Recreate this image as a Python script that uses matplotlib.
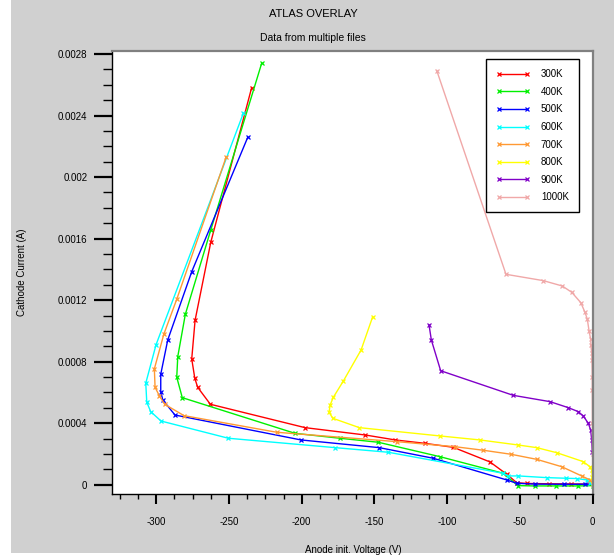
import matplotlib
matplotlib.use("Agg")
import matplotlib.pyplot as plt
from matplotlib.patches import Rectangle
from matplotlib.ticker import MultipleLocator, FixedLocator

plt.rcParams['font.family'] = ['Liberation Sans Narrow', 'Liberation Sans', 'DejaVu Sans']

labels = ["300K", "400K", "500K", "600K", "700K", "800K", "900K", "1000K"]
colors = ["#ff0000", "#00f000", "#0000ff", "#00ffff", "#ff9933", "#ffff00", "#8000c8", "#f0a8a8"]

v300 = [-234.4, -262.5, -273.3, -275.6, -273.5, -271.5, -262.8, -197.7, -156.2, -135.7, -115.3, -95.8, -70.6, -59.1, -52.2, -45, -30, -15, 0]
i300 = [0.002582, 0.001577, 0.001069, 0.000818, 0.000692, 0.000633, 0.000523, 0.000371, 0.000323, 0.000291, 0.000269, 0.000243, 0.000148, 0.000068, 0.000013, 0.000008, 0.000006, 0.000005, 0.000004]

v400 = [-227.5, -262.5, -280.0, -285.2, -285.9, -282.1, -204.6, -173.7, -147.4, -104.9, -61.4, -51.4, -40, -25, -10, 0]
i400 = [0.002741, 0.001657, 0.001108, 0.000833, 0.000699, 0.000566, 0.000334, 0.000302, 0.000276, 0.000182, 0.000074, -0.000006, -0.000008, -0.000008, -0.000008, -0.000006]

v500 = [-237.1, -275.6, -292.1, -296.9, -296.9, -295.5, -287.1, -200.5, -146.7, -109.6, -59.1, -52.2, -40, -20, -5, 0]
i500 = [0.002259, 0.001385, 0.000941, 0.000718, 0.000605, 0.000551, 0.000453, 0.000291, 0.000241, 0.000172, 0.000031, 0.000009, 0.000004, 0.000003, 0.000003, 0.000002]

v600 = [-240.1, -300.1, -307.2, -306.5, -303.8, -296.7, -250.4, -177.1, -140.5, -61.4, -58.0, -51.1, -31.6, -18.4, -11, -4.1, -1.9, 0]
i600 = [0.002416, 0.000911, 0.000660, 0.000536, 0.000475, 0.000414, 0.000302, 0.000241, 0.000211, 0.000074, 0.000057, 0.000057, 0.000046, 0.000042, 0.000040, 0.000031, 0.000009, 0.000002]

v700 = [-252.0, -285.9, -294.8, -301.3, -300.8, -297.9, -294.2, -280.9, -217.2, -134.7, -94.6, -75.2, -56.2, -38.5, -21.3, -7.6, -1.9, 0]
i700 = [0.002129, 0.001206, 0.000978, 0.000753, 0.000633, 0.000579, 0.000523, 0.000449, 0.000341, 0.000280, 0.000247, 0.000224, 0.000198, 0.000165, 0.000117, 0.000057, 0.000031, 0.000005]

v800 = [-151.2, -159.2, -171.4, -178.3, -180.5, -181.2, -178.7, -160.4, -104.9, -77.5, -51.1, -38.5, -24.7, -6.5, -1.9, -0.7, -0.3, 0]
i800 = [0.001093, 0.000876, 0.000674, 0.000568, 0.000518, 0.000471, 0.000432, 0.000371, 0.000317, 0.000291, 0.000258, 0.000241, 0.000208, 0.000150, 0.000117, 0.000096, 0.000050, 0.000005]

v900 = [-112.5, -110.9, -104.5, -54.6, -29.3, -16.8, -9.9, -6.5, -3.0, -1.4, -0.7, -0.3]
i900 = [0.001039, 0.000941, 0.000741, 0.000581, 0.000540, 0.000501, 0.000475, 0.000447, 0.000399, 0.000356, 0.000291, 0.000215]

v1000 = [-107.2, -59.6, -34.0, -20.9, -14.4, -8.2, -5.3, -3.7, -2.5, -1.4, -1.2, -0.7, -0.5, -0.3, -0.3, -0.2, -0.1, 0]
i1000 = [0.002693, 0.001368, 0.001327, 0.001292, 0.001251, 0.001184, 0.001121, 0.001076, 0.001000, 0.000946, 0.000909, 0.000855, 0.000811, 0.000702, 0.000616, 0.000400, 0.000200, 0.000000]

volts = [v300, v400, v500, v600, v700, v800, v900, v1000]
currents = [i300, i400, i500, i600, i700, i800, i900, i1000]

ytick_vals = [0, 0.0004, 0.0008, 0.0012, 0.0016, 0.002, 0.0024, 0.0028]
ytick_labels = ["0", "0.0004", "0.0008", "0.0012", "0.0016", "0.002", "0.0024", "0.0028"]
xtick_vals = [-300, -250, -200, -150, -100, -50, 0]
xtick_labels = ["-300", "-250", "-200", "-150", "-100", "-50", "0"]

W, H = 614, 556
fig = plt.figure(figsize=(W / 100, H / 100), dpi=100, facecolor="white")
fig.patches.append(Rectangle((11 / W, 3 / H), 1, 1, transform=fig.transFigure,
                             facecolor="#d0d0d0", edgecolor="none", zorder=-10))

ax = fig.add_axes([112.3 / W, 1 - 494.3 / H, 481.2 / W, 443.3 / H])
ax.set_facecolor("white")

for v, c, col, lab in zip(volts, currents, colors, labels):
    ax.plot(v, c, color=col, lw=1.0, marker="x", ms=3.2, mew=0.9, label=lab)

ax.set_xlim(-330.2, 0.55)
ax.set_ylim(-0.0000624, 0.00282)

ax.xaxis.set_major_locator(FixedLocator(xtick_vals))
ax.set_xticklabels(xtick_labels)
ax.xaxis.set_minor_locator(MultipleLocator(12.5))
ax.yaxis.set_major_locator(FixedLocator(ytick_vals))
ax.set_yticklabels(ytick_labels)
ax.yaxis.set_minor_locator(MultipleLocator(0.0001))

ax.tick_params(axis="x", which="major", direction="out", length=7, width=1.5, pad=9.5, labelsize=7, colors="black")
ax.tick_params(axis="x", which="minor", direction="out", length=3.5, width=1)
ax.tick_params(axis="y", which="major", direction="out", length=13, width=1.6, pad=5, labelsize=7)
ax.tick_params(axis="y", which="minor", direction="out", length=6.5, width=1)

for s in ("left", "bottom"):
    ax.spines[s].set_color("black")
    ax.spines[s].set_linewidth(1.0)
for s in ("top", "right"):
    ax.spines[s].set_color("#808080")
    ax.spines[s].set_linewidth(1.6)

ax.set_xlabel("Anode init. Voltage (V)", fontsize=7)
ax.xaxis.set_label_coords(0.5, -0.115)
ax.set_ylabel("Cathode Current (A)", fontsize=7)
ax.yaxis.set_label_coords(-0.177, 0.5)

fig.text(313 / W, 1 - 14 / H, "ATLAS OVERLAY", ha="center", va="center", fontsize=8)
fig.text(313 / W, 1 - 38 / H, "Data from multiple files", ha="center", va="center", fontsize=7.5)

leg = ax.legend(loc="upper left", bbox_to_anchor=(0.7766, 0.982), fontsize=7,
                frameon=True, fancybox=False, shadow=False, numpoints=2,
                handlelength=3.5, handletextpad=1.1, borderpad=1.05,
                labelspacing=0.78, borderaxespad=0)
leg.get_frame().set_edgecolor("black")
leg.get_frame().set_linewidth(1.0)
leg.get_frame().set_facecolor("white")
leg.get_frame().set_alpha(1)

fig.savefig("out.png", dpi=100, facecolor=fig.get_facecolor())
